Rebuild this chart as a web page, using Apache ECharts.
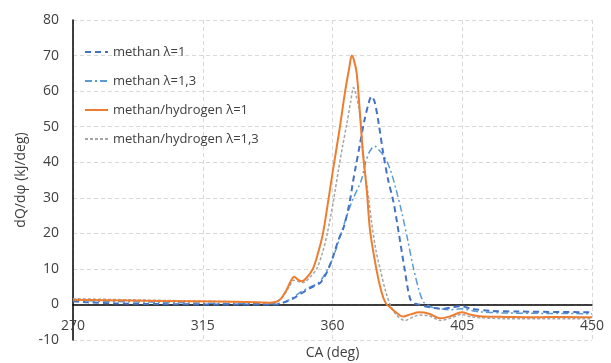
<!DOCTYPE html>
<html>
<head>
<meta charset="utf-8">
<script src="https://cdn.jsdelivr.net/npm/echarts@6/dist/echarts.min.js"></script>
<style>
  html, body { margin: 0; padding: 0; background: #fff; }
  #main { width: 611px; height: 363px; }
</style>
</head>
<body>
<div id="main"></div>
<script>
// series names
var seriesNames = ['methan λ=1', 'methan λ=1,3', 'methan/hydrogen λ=1', 'methan/hydrogen λ=1,3'];

// methan λ=1
var caM1 = [270,275,285,300,320,340,343,346,349,352,354,356,358,360,362,364,366,367,368,369.5,371,372.5,373.5,374.6,376,377.5,379.3,381.1,383,385,386.9,388.5,390,392,395,398,401,404.5,408,415,425,450];
var qM1 = [0.9,0.6,0.3,0.1,0,0,0.5,1.5,3,4.5,5.3,6.3,9,13,18,22,29,34,38.5,45,51.5,56.5,58.5,57,51,43,35,29,20,10,1.6,0.3,0,-0.5,-1,-1.2,-0.9,-0.5,-1.2,-1.8,-2,-2.2];

// methan λ=1,3
var caM13 = [270,280,300,320,340,343,346,349,352,355,357,359,361,363,365,367,369,370.2,371.5,373,374.7,376,378,380,382,384,386,388,390,391.5,393,395,398,401,404.5,410,420,450];
var qM13 = [1.2,0.9,0.6,0.3,0.2,0.6,1.8,3.5,4.8,6,8,11,15,20,25,29.5,33,35.5,40,43.2,44.5,43.5,41.5,38,32.5,26,18.5,10.5,4,0.8,-0.3,-0.9,-1.3,-1.5,-1.2,-2,-2.4,-2.6];

// methan/hydrogen λ=1
var caH1 = [270,290,310,330,338,340,342,344,345.5,346.7,348,349.3,351,353.2,355,356.7,358.5,360.2,362.4,364.3,365.8,366.7,367.5,368.4,369.5,370.5,371.9,373,375.3,377,378.5,380,382,384.5,387,390,393.5,397.5,401,404.8,408,412,420,430,440,450];
var qH1 = [1.3,1.1,0.9,0.7,0.5,0.6,1.5,4,6.5,7.8,7,6.5,7.5,10,14.5,20,29,38,49,59.5,66.5,70,68.5,65,54,43,32,21,9.6,3.5,0.3,-0.8,-2.2,-3.4,-2.8,-2.2,-2.6,-3.9,-3.3,-2.2,-2.9,-3.4,-3.5,-3.6,-3.5,-3.6];

// methan/hydrogen λ=1,3
var caH13 = [270,290,310,330,339,341,343,345,346.5,348,350,352,354.5,356.5,358.2,360.3,362,363.5,364.9,366.3,367.3,368,369.5,370.5,371.5,372.5,373.5,375,376.5,378.5,380,382,385,388,390,393.5,397.5,401,404.8,408,420,450];
var qH13 = [1.6,1.3,1.0,0.7,0.5,1.0,2.5,5,6.8,6.5,6.2,7.5,10,14.5,20,29,37.5,44.5,50.5,57,61,59.5,53.5,44,36,30,23.5,15.5,10,3.5,0,-2.8,-4.5,-3.5,-3,-3.2,-4.5,-3.8,-2.8,-3.5,-4,-4];

// axis ticks
var xTicks = [270, 315, 360, 405, 450];
var yTicks = [-10, 0, 10, 20, 30, 40, 50, 60, 70, 80];

function pairs(xs, ys) {
    var out = [];
    for (var i = 0; i < xs.length; i++) {
        out.push([xs[i], ys[i]]);
    }
    return out;
}

var myChart = echarts.init(document.getElementById('main'));

var font = 'Open Sans';
var gridLine = { show: true, lineStyle: { color: '#d9d9d9', type: [4, 3], width: 1 } };

var option = {
    animation: false,
    textStyle: { fontFamily: font },
    grid: { left: 73, right: 19, top: 20, bottom: 23, outerBoundsMode: 'none', containLabel: false },
    legend: {
        orient: 'vertical',
        left: 84,
        top: 45,
        padding: 0,
        itemWidth: 23,
        itemHeight: 14,
        itemGap: 15,
        itemStyle: { opacity: 0 },
        textStyle: { color: '#404040', fontSize: 13, lineHeight: 14, fontFamily: font },
        data: seriesNames
    },
    xAxis: {
        type: 'value',
        min: xTicks[0],
        max: xTicks[xTicks.length - 1],
        interval: 45,
        name: 'CA (deg)',
        nameLocation: 'middle',
        nameGap: 6,
        nameTextStyle: { color: '#404040', fontSize: 14 },
        axisLine: { onZero: true, lineStyle: { color: '#000', width: 1.5 } },
        axisTick: { show: false },
        // labels sit just under the zero line, like the original
        axisLabel: { color: '#404040', fontSize: 14, margin: -21 },
        splitLine: gridLine
    },
    yAxis: {
        type: 'value',
        min: yTicks[0],
        max: yTicks[yTicks.length - 1],
        interval: 10,
        name: 'dQ/dφ (kJ/deg)',
        nameLocation: 'middle',
        nameGap: 45,
        nameTextStyle: { color: '#404040', fontSize: 14 },
        axisLine: { show: true, onZero: false, lineStyle: { color: '#000', width: 1.5 } },
        axisTick: { show: false },
        axisLabel: { color: '#404040', fontSize: 14, margin: 14 },
        splitLine: gridLine
    },
    series: [
        {
            name: seriesNames[0],
            type: 'line',
            symbol: 'none',
            smooth: 0.3,
            z: 3,
            lineStyle: { color: '#4472c4', width: 2, type: [6, 4] },
            itemStyle: { color: '#4472c4' },
            data: pairs(caM1, qM1)
        },
        {
            name: seriesNames[1],
            type: 'line',
            symbol: 'none',
            smooth: 0.3,
            z: 2,
            lineStyle: { color: '#5b9bd5', width: 1.5, type: [7, 3, 2, 3] },
            itemStyle: { color: '#5b9bd5' },
            data: pairs(caM13, qM13)
        },
        {
            name: seriesNames[2],
            type: 'line',
            symbol: 'none',
            smooth: 0.3,
            z: 5,
            lineStyle: { color: '#ed7d31', width: 2 },
            itemStyle: { color: '#ed7d31' },
            data: pairs(caH1, qH1)
        },
        {
            name: seriesNames[3],
            type: 'line',
            symbol: 'none',
            smooth: 0.3,
            z: 4,
            lineStyle: { color: '#a5a5a5', width: 1.5, type: [3, 2] },
            itemStyle: { color: '#a5a5a5' },
            data: pairs(caH13, qH13)
        }
    ]
};

myChart.setOption(option);
</script>
</body>
</html>
